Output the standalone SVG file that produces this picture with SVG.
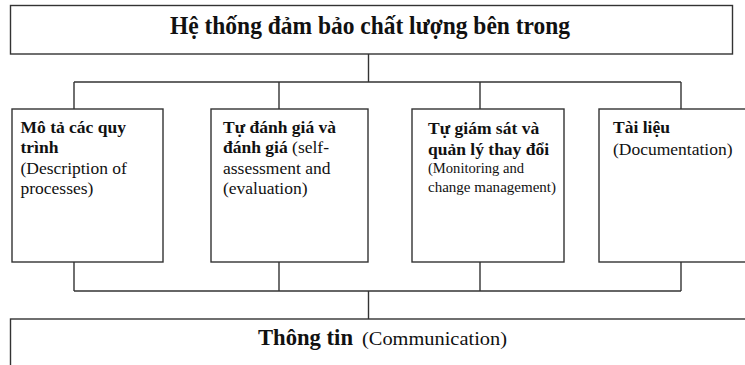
<svg xmlns="http://www.w3.org/2000/svg" width="745" height="365" viewBox="0 0 745 365" font-family="'Liberation Serif', 'Times New Roman', serif">
<style>
.box{fill:#fff;stroke:#333;stroke-width:1.4}
.con line{stroke:#333;stroke-width:1.4}
.t{font-family:'Liberation Serif','Times New Roman',serif;fill:#111}
.b{font-family:'Liberation Serif','Times New Roman',serif;font-weight:bold;font-size:17.5px;fill:#111}
.r{font-family:'Liberation Serif','Times New Roman',serif;font-size:17.5px;fill:#111}
.s{font-family:'Liberation Serif','Times New Roman',serif;font-size:14.5px;fill:#111}
</style>
<rect width="745" height="365" fill="#fff"/>
<g class="con" id="connectors">
<line x1="368.5" y1="54" x2="368.5" y2="82"/>
<line x1="74" y1="82" x2="681" y2="82"/>
<line x1="74" y1="82" x2="74" y2="109"/>
<line x1="279" y1="82" x2="279" y2="109"/>
<line x1="480" y1="82" x2="480" y2="109"/>
<line x1="681" y1="82" x2="681" y2="109"/>
<line x1="74" y1="262" x2="74" y2="291"/>
<line x1="279" y1="262" x2="279" y2="291"/>
<line x1="480" y1="262" x2="480" y2="291"/>
<line x1="681" y1="262" x2="681" y2="291"/>
<line x1="74" y1="291" x2="681" y2="291"/>
<line x1="368.5" y1="291" x2="368.5" y2="319"/>
</g>
<g id="title">
<rect class="box" x="10.5" y="5.5" width="722" height="48.5"/>
<text class="t" x="170" y="34" font-weight="bold" font-size="25" textLength="400" lengthAdjust="spacingAndGlyphs">Hệ thống đảm bảo chất lượng bên trong</text>
</g>
<g id="box1">
<rect class="box" x="12" y="109" width="151" height="153"/>
<text class="b" x="20.5" y="133">Mô tả các quy</text>
<text class="b" x="20.5" y="153">trình</text>
<text class="r" x="20.5" y="174">(Description of</text>
<text class="r" x="20.5" y="194">processes)</text>
</g>
<g id="box2">
<rect class="box" x="211" y="109" width="157" height="153"/>
<text class="b" x="223" y="133">Tự đánh giá và</text>
<text class="r" x="223" y="153"><tspan class="b">đánh giá</tspan> (self-</text>
<text class="r" x="223" y="174">assessment and</text>
<text class="r" x="223" y="194">(evaluation)</text>
</g>
<g id="box3">
<rect class="box" x="412" y="109" width="152" height="153"/>
<text class="b" x="428" y="134">Tự giám sát và</text>
<text class="b" x="428" y="155">quản lý thay đổi</text>
<text class="s" x="428" y="173" textLength="96" lengthAdjust="spacingAndGlyphs">(Monitoring and</text>
<text class="s" x="428" y="192" textLength="128" lengthAdjust="spacingAndGlyphs">change management)</text>
</g>
<g id="box4">
<rect class="box" x="599" y="109" width="160" height="153"/>
<text class="b" x="613" y="133">Tài liệu</text>
<text class="r" x="613" y="155">(Documentation)</text>
</g>
<g id="bottom">
<rect class="box" x="10.5" y="319" width="760" height="60"/>
<text class="t" x="258" y="345" font-weight="bold" font-size="24" textLength="95" lengthAdjust="spacingAndGlyphs">Thông tin</text>
<text class="t" x="362" y="345" font-size="19" textLength="145" lengthAdjust="spacingAndGlyphs">(Communication)</text>
</g>
</svg>
